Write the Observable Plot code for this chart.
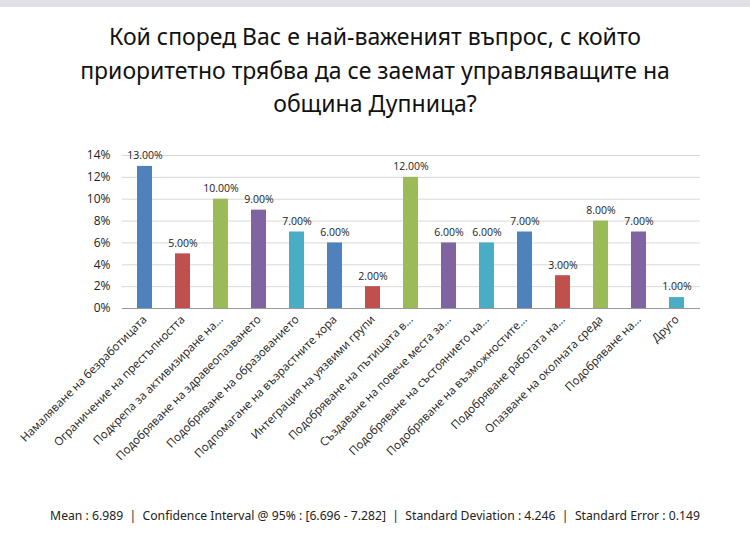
<!DOCTYPE html>
<html>
<head>
<meta charset="utf-8">
<script src="https://cdn.jsdelivr.net/npm/d3@7"></script>
<script src="https://cdn.jsdelivr.net/npm/@observablehq/plot@0.6"></script>
<style>
  html, body { margin: 0; padding: 0; background: #fff; }
  #page { width: 750px; height: 536px; position: relative; overflow: hidden; }
  #band { height: 7px; background: #e1e0e6; }
  #title {
    font-family: "Noto Sans", "Open Sans", sans-serif;
    font-size: 23px; line-height: 33.5px; color: #111; text-align: center;
    margin-top: 13px; height: 115px;
  }
  #chart { position: absolute; left: 0; top: 140px; }
  #footer {
    position: absolute; left: 0; top: 507px; width: 750px; text-align: center;
    font-family: "Noto Sans", "Open Sans", sans-serif;
    font-size: 12.2px; color: #222;
  }
</style>
</head>
<body>
<div id="page">
  <div id="band"></div>
  <div id="title">Кой според Вас е най-важеният въпрос, с който<br>приоритетно трябва да се заемат управляващите на<br>община Дупница?</div>
  <div id="chart"></div>
  <div id="footer">Mean : 6.989 &nbsp;|&nbsp; Confidence Interval @ 95% : [6.696 - 7.282] &nbsp;|&nbsp; Standard Deviation : 4.246 &nbsp;|&nbsp; Standard Error : 0.149</div>
</div>
<script>
// Answer options, in the order they are shown
const answers = [
  "Намаляване на безработицата",
  "Ограничение на престъпността",
  "Подкрепа за активизиране на...",
  "Подобряване на здравеопазването",
  "Подобряване на образованието",
  "Подпомагане на възрастните хора",
  "Интеграция на уязвими групи",
  "Подобряване на пътищата в...",
  "Създаване на повече места за...",
  "Подобряване на състоянието на...",
  "Подобряване на възможностите...",
  "Подобряване работата на...",
  "Опазване на околната среда",
  "Подобряване на...",
  "Друго"
];
// Share of respondents, percent
const shares = [13, 5, 10, 9, 7, 6, 2, 12, 6, 6, 7, 3, 8, 7, 1];
// Office-style series palette, cycling over the bars
const palette = ["#4F81BD", "#C0504D", "#9BBB59", "#8064A2", "#4BACC6"];
const yTicks = [0, 0.02, 0.04, 0.06, 0.08, 0.10, 0.12, 0.14];

const rows = answers.map((a, i) => ({answer: a, share: shares[i] / 100, color: palette[i % palette.length]}));

const chart = Plot.plot({
  width: 750,
  height: 350,
  marginLeft: 122,
  marginRight: 50,
  marginTop: 15,
  marginBottom: 182,
  style: {fontFamily: "'Open Sans', sans-serif", fontSize: "11px", color: "#222", background: "transparent"},
  x: {domain: answers, paddingInner: 0.6, paddingOuter: 0.3, label: null},
  y: {domain: [0, 0.14], label: null},
  marks: [
    Plot.gridY(yTicks, {stroke: "#d9d9d9", strokeOpacity: 1}),
    Plot.axisY(yTicks, {tickSize: 0, tickPadding: 12, tickFormat: d => Math.round(d * 100) + "%", fontSize: 12, fill: "#222"}),
    Plot.axisX({tickSize: 0, tickPadding: 9, tickRotate: -45, fontSize: 11.5, fill: "#222"}),
    Plot.barY(rows, {x: "answer", y: "share", fill: "color"}),
    Plot.ruleY([0], {stroke: "#999"}),
    Plot.text(rows, {x: "answer", y: "share", text: d => (d.share * 100).toFixed(2) + "%", dy: -10.5, fontSize: 10.5, fill: "#222"})
  ]
});
document.getElementById("chart").appendChild(chart);
</script>
</body>
</html>
